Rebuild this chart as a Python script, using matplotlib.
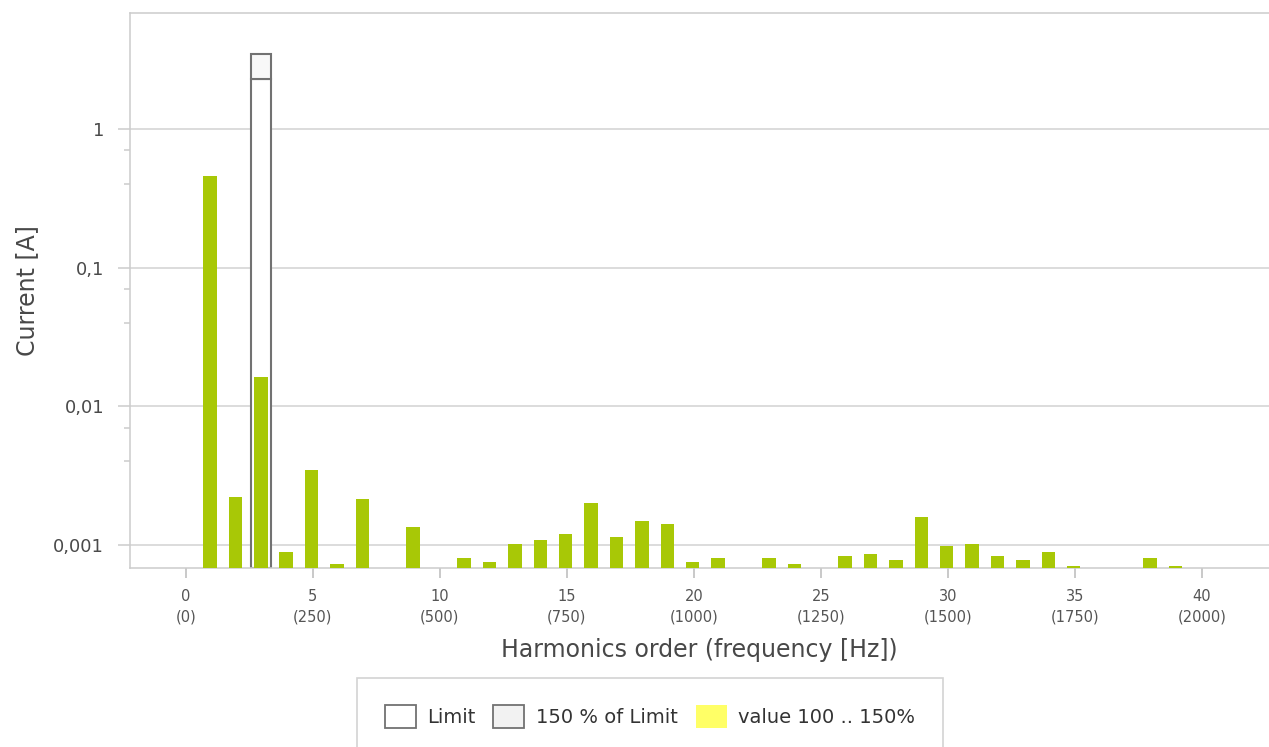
import numpy as np
import matplotlib.pyplot as plt
from matplotlib.patches import Patch

# Harmonic orders 1..39 and measured current [A] (nan = no bar)
harmonics = np.arange(1, 40)
current = np.array([
    0.46, 0.00221, 0.0162, 0.000886, 0.00349, 0.000733, 0.00213, np.nan,
    0.00135, np.nan, 0.000802, 0.000754, 0.00101, 0.00108, 0.00119, 0.0020,
    0.00115, 0.0015, 0.00141, 0.000754, 0.000806, np.nan, 0.000806, 0.00073,
    np.nan, 0.000833, 0.00086, 0.00078, 0.0016, 0.00098, 0.00101, 0.000833,
    0.00078, 0.00089, 0.00071, np.nan, np.nan, 0.000806, 0.00071,
])

# Limit definition
limit_orders = [3]
limit_values = [2.3]
limit_factor = 1.5

x_ticks = list(range(0, 41, 5))
x_tick_labels = [f"{n}\n({n * 50})" for n in x_ticks]
y_ticks = [0.001, 0.01, 0.1, 1]
y_tick_labels = ['0,001', '0,01', '0,1', '1']
y_minor_ticks = [0.004, 0.007, 0.04, 0.07, 0.4, 0.7]

y_min, y_max = 0.000682, 6.86
green = '#a8c806'
edge_gray = '#727272'

fig = plt.figure(figsize=(12.69, 7.47), dpi=100)
ax = fig.add_axes([130 / 1269, 1 - 568 / 747, 1 - 130 / 1269, (568 - 13) / 747])
ax.set_yscale('log')

# limit boxes (limit and 150 % of limit stacked)
for order, lim in zip(limit_orders, limit_values):
    ax.bar(order - 0.05, lim - y_min, bottom=y_min, width=0.79, facecolor='white',
           edgecolor=edge_gray, linewidth=1.5, zorder=2)
    ax.bar(order - 0.05, lim * limit_factor - lim, bottom=lim, width=0.79,
           facecolor='#f8f8f8', edgecolor=edge_gray, linewidth=1.5, zorder=2)

# measured values
mask = ~np.isnan(current)
ax.bar(harmonics[mask] - 0.05, current[mask] - y_min, bottom=y_min, width=0.53,
       color=green, linewidth=0, zorder=3)

ax.set_ylim(y_min, y_max)
ax.set_xlim(-2.2, 42.64)

# axes styling
ax.set_axisbelow(True)
ax.yaxis.grid(True, which='major', color='#d2d2d2', linewidth=1.1)
for side in ['left', 'bottom', 'top']:
    ax.spines[side].set_color('#cccccc')
    ax.spines[side].set_linewidth(1.1)
ax.spines['right'].set_visible(False)

ax.set_yticks(y_ticks)
ax.set_yticklabels(y_tick_labels, fontsize=12.75, color='#4a4a4a')
ax.set_yticks(y_minor_ticks, minor=True)
ax.yaxis.set_minor_formatter(plt.NullFormatter())
ax.tick_params(axis='y', which='major', length=8.6, width=1.1, color='#cccccc', pad=10)
ax.tick_params(axis='y', which='minor', length=4.3, width=1.1, color='#cccccc')

ax.set_xticks(x_ticks)
ax.set_xticklabels(x_tick_labels, fontsize=10.5, color='#555555', linespacing=1.45)
ax.tick_params(axis='x', which='major', length=7.2, width=1.1, color='#bbbbbb', pad=8)
ax.tick_params(axis='x', which='minor', bottom=False)

ax.set_ylabel('Current [A]', fontsize=17, color='#484848', labelpad=10)
ax.set_xlabel('Harmonics order (frequency [Hz])', fontsize=17, color='#484848', labelpad=10)

handles = [
    Patch(facecolor='white', edgecolor=edge_gray, linewidth=1.3),
    Patch(facecolor='#f2f2f2', edgecolor=edge_gray, linewidth=1.3),
    Patch(facecolor='#ffff66', edgecolor='none'),
]
labels = ['Limit', '150 % of Limit', 'value 100 .. 150%']
leg = fig.legend(handles, labels, loc='upper center', ncol=3,
                 bbox_to_anchor=(650 / 1269, 1 - 678 / 747), borderaxespad=0,
                 fontsize=14, frameon=True, fancybox=False,
                 borderpad=1.4, handlelength=1.6, handleheight=1.4,
                 handletextpad=0.6, columnspacing=0.9, labelcolor='#333333')
leg.get_frame().set_edgecolor('#c8c8c8')
leg.get_frame().set_linewidth(1.2)

fig.savefig('out.png', dpi=100)
